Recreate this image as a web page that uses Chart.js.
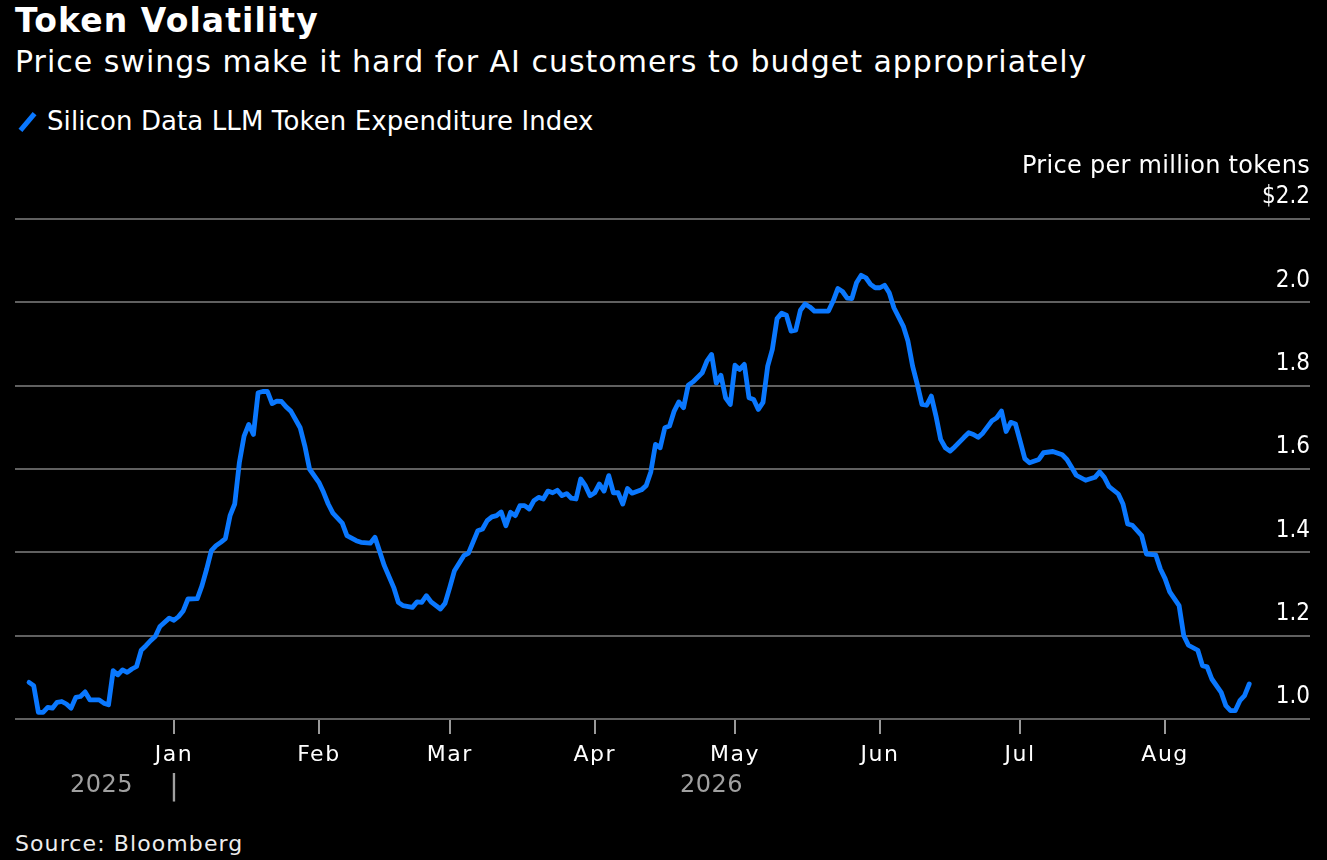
<!DOCTYPE html>
<html><head><meta charset="utf-8">
<script src="https://cdn.jsdelivr.net/npm/chart.js@4"></script>
<style>
html,body{margin:0;padding:0;background:#000;}
body{width:1327px;height:860px;position:relative;overflow:hidden;font-family:"DejaVu Sans",sans-serif;color:#fff;}
.t{position:absolute;white-space:nowrap;line-height:1;}
#title{left:15px;top:4px;font-size:33px;font-weight:bold;letter-spacing:1.1px;}
#subtitle{left:15px;top:47px;font-size:30px;letter-spacing:1px;}
#legend{left:18px;top:108px;font-size:26px;letter-spacing:0.1px;}
#legend .sw{display:inline-block;width:5px;height:22px;background:#0a78ff;transform:rotate(40deg);margin:0 17px 0 7px;vertical-align:-3px;}
#source{left:15px;top:833px;font-size:22px;letter-spacing:1.1px;color:#ededed;}
#wrap{position:absolute;left:0;top:140px;width:1327px;height:680px;}
</style></head>
<body>
<div id="title" class="t">Token Volatility</div>
<div id="subtitle" class="t">Price swings make it hard for AI customers to budget appropriately</div>
<div id="legend" class="t"><span class="sw"></span>Silicon Data LLM Token Expenditure Index</div>
<div id="source" class="t">Source: Bloomberg</div>
<div id="wrap"><canvas id="c" width="1327" height="680"></canvas></div>
<script>
const seriesName = 'Silicon Data LLM Token Expenditure Index';
const yAxisTitle = 'Price per million tokens';
const dates = [
"2025-12-01","2025-12-02","2025-12-03","2025-12-04","2025-12-05","2025-12-06","2025-12-07","2025-12-08","2025-12-09","2025-12-10","2025-12-11","2025-12-12","2025-12-13","2025-12-14","2025-12-16","2025-12-17","2025-12-18","2025-12-19","2025-12-20","2025-12-21","2025-12-22","2025-12-23","2025-12-24","2025-12-25","2025-12-26","2025-12-27","2025-12-28","2025-12-29","2025-12-31",
"2026-01-01","2026-01-02","2026-01-03","2026-01-04","2026-01-06","2026-01-07","2026-01-08","2026-01-09","2026-01-10","2026-01-11","2026-01-12","2026-01-13","2026-01-14","2026-01-15","2026-01-16","2026-01-17","2026-01-18","2026-01-19","2026-01-20","2026-01-21","2026-01-22","2026-01-23","2026-01-24","2026-01-25","2026-01-26","2026-01-28","2026-01-29","2026-01-30",
"2026-02-01","2026-02-02","2026-02-03","2026-02-04","2026-02-06","2026-02-07","2026-02-09","2026-02-10","2026-02-12","2026-02-13","2026-02-15","2026-02-17","2026-02-18","2026-02-19","2026-02-21","2026-02-22","2026-02-23","2026-02-24","2026-02-25","2026-02-27","2026-02-28",
"2026-03-01","2026-03-02","2026-03-04","2026-03-05","2026-03-07","2026-03-08","2026-03-09","2026-03-10","2026-03-11","2026-03-12","2026-03-13","2026-03-14","2026-03-15","2026-03-16","2026-03-17","2026-03-18","2026-03-19","2026-03-20","2026-03-21","2026-03-22","2026-03-23","2026-03-24","2026-03-25","2026-03-26","2026-03-27","2026-03-28","2026-03-29","2026-03-30","2026-03-31",
"2026-04-01","2026-04-02","2026-04-03","2026-04-04","2026-04-05","2026-04-06","2026-04-07","2026-04-08","2026-04-09","2026-04-11","2026-04-12","2026-04-13","2026-04-14","2026-04-15","2026-04-16","2026-04-17","2026-04-18","2026-04-19","2026-04-20","2026-04-21","2026-04-22","2026-04-24","2026-04-25","2026-04-26","2026-04-27","2026-04-28","2026-04-29","2026-04-30",
"2026-05-01","2026-05-02","2026-05-03","2026-05-04","2026-05-05","2026-05-06","2026-05-07","2026-05-08","2026-05-09","2026-05-10","2026-05-11","2026-05-12","2026-05-13","2026-05-14","2026-05-15","2026-05-16","2026-05-17","2026-05-18","2026-05-20","2026-05-21","2026-05-22","2026-05-23","2026-05-24","2026-05-25","2026-05-26","2026-05-27","2026-05-28","2026-05-29","2026-05-30","2026-05-31",
"2026-06-01","2026-06-02","2026-06-03","2026-06-04","2026-06-06","2026-06-07","2026-06-08","2026-06-09","2026-06-10","2026-06-11","2026-06-12","2026-06-13","2026-06-14","2026-06-15","2026-06-16","2026-06-17","2026-06-19","2026-06-20","2026-06-21","2026-06-22","2026-06-23","2026-06-25","2026-06-26","2026-06-27","2026-06-28","2026-06-29","2026-06-30",
"2026-07-01","2026-07-02","2026-07-03","2026-07-05","2026-07-06","2026-07-08","2026-07-10","2026-07-11","2026-07-12","2026-07-13","2026-07-15","2026-07-17","2026-07-18","2026-07-19","2026-07-20","2026-07-22","2026-07-23","2026-07-24","2026-07-25","2026-07-27","2026-07-28","2026-07-30","2026-07-31",
"2026-08-01","2026-08-02","2026-08-04","2026-08-05","2026-08-06","2026-08-08","2026-08-09","2026-08-10","2026-08-11","2026-08-13","2026-08-14","2026-08-15","2026-08-16","2026-08-17","2026-08-18","2026-08-19"
];
const values = [
1.088,1.080,1.016,1.016,1.028,1.026,1.040,1.042,1.036,1.026,1.052,1.054,1.065,1.046,1.046,1.038,1.034,1.116,1.106,1.118,1.112,1.120,1.126,1.165,1.176,1.188,1.198,1.222,1.242,
1.237,1.246,1.260,1.288,1.289,1.320,1.360,1.404,1.416,1.424,1.433,1.488,1.516,1.616,1.679,1.707,1.683,1.783,1.786,1.786,1.757,1.763,1.762,1.749,1.739,1.699,1.655,1.600,
1.568,1.544,1.516,1.494,1.470,1.440,1.428,1.424,1.422,1.436,1.368,1.316,1.280,1.272,1.268,1.281,1.280,1.296,1.281,1.264,1.278,
1.316,1.356,1.392,1.398,1.452,1.456,1.476,1.485,1.488,1.497,1.464,1.496,1.488,1.512,1.512,1.504,1.524,1.532,1.528,1.547,1.543,1.549,1.536,1.541,1.530,1.528,1.576,1.560,1.536,
1.543,1.564,1.547,1.584,1.543,1.543,1.516,1.553,1.542,1.550,1.560,1.593,1.659,1.651,1.699,1.703,1.739,1.761,1.747,1.801,1.809,1.831,1.859,1.875,1.806,1.825,1.771,1.755,
1.849,1.839,1.851,1.771,1.767,1.743,1.760,1.847,1.887,1.961,1.974,1.969,1.931,1.933,1.981,1.996,1.989,1.979,1.979,1.979,2.003,2.033,2.026,2.010,2.009,2.047,2.065,2.059,2.043,2.035,
2.035,2.041,2.023,1.987,1.943,1.907,1.847,1.803,1.755,1.753,1.775,1.727,1.671,1.651,1.643,1.653,1.676,1.687,1.683,1.676,1.686,1.716,1.723,1.739,1.690,1.712,1.708,
1.667,1.625,1.615,1.623,1.639,1.642,1.634,1.623,1.604,1.585,1.573,1.580,1.593,1.580,1.558,1.540,1.516,1.468,1.465,1.440,1.396,1.394,1.360,
1.337,1.305,1.272,1.200,1.177,1.165,1.128,1.125,1.096,1.064,1.032,1.020,1.020,1.044,1.056,1.084
];
const monthLabels = ['Jan','Feb','Mar','Apr','May','Jun','Jul','Aug'];
const monthStarts = ['2026-01-01','2026-02-01','2026-03-01','2026-04-01','2026-05-01','2026-06-01','2026-07-01','2026-08-01'];
const yearLabels = ['2025','2026'];
const yTicks = [1.0,1.2,1.4,1.6,1.8,2.0,2.2];
const xRange = ['2025-11-28','2026-09-01'];
const yRange = [1.0, 2.2];

const F = '"DejaVu Sans",sans-serif';
const FC = '"DejaVu Sans Condensed","DejaVu Sans",sans-serif';
const origin = Date.UTC(2026,0,1);
const toDay = s => { const p = s.split('-').map(Number); return (Date.UTC(p[0],p[1]-1,p[2]) - origin)/86400000; };
const points = dates.map((d,i)=>({x:toDay(d), y:values[i]}));
const monthDays = monthStarts.map(toDay);

const extras = {
  id:'extras',
  beforeDraw(c){ c.ctx.letterSpacing = '1.5px'; },
  afterDatasetsDraw(c){ c.ctx.letterSpacing = '0px'; },
  afterDraw(c){
    const ctx = c.ctx, xs = c.scales.x, ca = c.chartArea;
    const first = points[0].x, last = points[points.length-1].x, yb = 0;
    ctx.save();
    ctx.letterSpacing = '0.5px';
    ctx.font = '24px ' + F;
    ctx.fillStyle = '#a0a0a0';
    ctx.textAlign = 'center';
    ctx.textBaseline = 'alphabetic';
    const yy = ca.bottom + 73;
    ctx.fillText(yearLabels[0], xs.getPixelForValue((first + yb)/2), yy);
    ctx.letterSpacing = '0px';
    ctx.font = '28px ' + F;
    ctx.fillText('|', xs.getPixelForValue(yb), yy + 3);
    ctx.font = '24px ' + F;
    ctx.letterSpacing = '0.5px';
    ctx.fillText(yearLabels[1], xs.getPixelForValue((yb + last)/2), yy);
    ctx.fillStyle = '#ffffff';
    ctx.font = '24px ' + F;
    ctx.letterSpacing = '0.3px';
    ctx.textAlign = 'right';
    ctx.fillText(yAxisTitle, ca.right, ca.top - 46);
    ctx.restore();
    ctx.letterSpacing = '0px';
  }
};

new Chart(document.getElementById('c'), {
  type:'line',
  data:{datasets:[{label:seriesName, data:points, borderColor:'#0a78ff', borderWidth:4.8, pointRadius:0, tension:0, borderJoinStyle:'round', borderCapStyle:'round', fill:false}]},
  options:{
    responsive:false, animation:false, devicePixelRatio:1,
    layout:{padding:{top:79,left:15,right:0,bottom:0}},
    plugins:{legend:{display:false}, tooltip:{enabled:false}},
    scales:{
      x:{type:'linear', min:toDay(xRange[0]), max:toDay(xRange[1]),
        afterBuildTicks:s=>{ s.ticks = monthDays.map(v=>({value:v})); },
        afterFit:s=>{ s.height = 101; },
        grid:{drawOnChartArea:false, drawTicks:true, tickLength:15, color:'#9a9a9a', lineWidth:2},
        border:{display:false},
        ticks:{autoSkip:false, maxRotation:0, padding:8, color:'#ffffff', font:{family:F, size:22}, callback:(v,i)=>monthLabels[i]}
      },
      y:{position:'right', min:yRange[0], max:yRange[1],
        afterBuildTicks:s=>{ s.ticks = yTicks.map(v=>({value:v})); },
        afterFit:s=>{ s.width = 17; },
        grid:{color:'#606060', lineWidth:2, drawTicks:false},
        border:{display:false},
        ticks:{z:1, mirror:true, padding:0, labelOffset:-22, color:'#ffffff', font:{family:FC, size:24},
          callback:v => (v === yRange[1] ? '$' : '') + v.toFixed(1)}
      }
    }
  },
  plugins:[extras]
});
</script>
</body></html>
